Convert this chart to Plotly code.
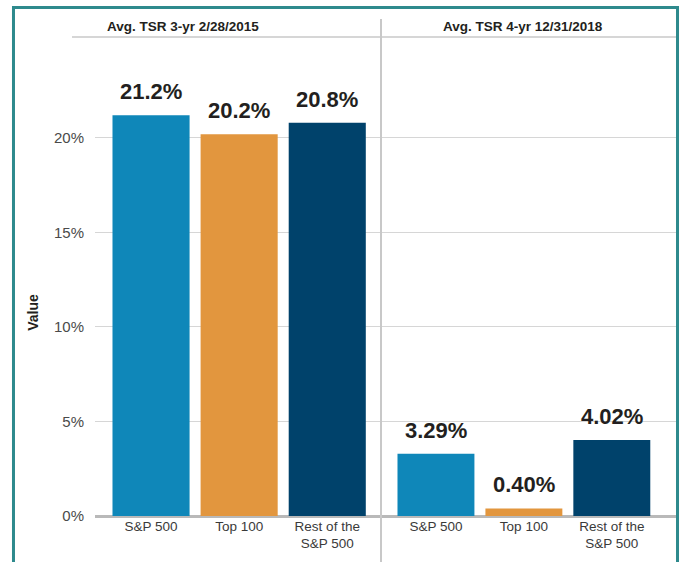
import plotly.graph_objects as go
from plotly.subplots import make_subplots

categories = ["S&P 500", "Top 100", "Rest of the<br>S&P 500"]
panel_titles = ["Avg. TSR 3-yr 2/28/2015", "Avg. TSR 4-yr 12/31/2018"]
values_2015 = [21.2, 20.2, 20.8]
values_2018 = [3.29, 0.40, 4.02]
labels_2015 = ["21.2%", "20.2%", "20.8%"]
labels_2018 = ["3.29%", "0.40%", "4.02%"]
bar_colors = ["#0f87b9", "#e2963e", "#00426b"]
y_ticks = [0, 5, 10, 15, 20]
y_tick_labels = ["0%", "5%", "10%", "15%", "20%"]

FONT = "Liberation Sans, Arial, sans-serif"
SPLIT = 286 / 581  # panel divider in paper units

fig = make_subplots(rows=1, cols=2, shared_yaxes=True, horizontal_spacing=0.0)

panels = [(values_2015, labels_2015), (values_2018, labels_2018)]
for col, (vals, labs) in enumerate(panels, start=1):
    fig.add_trace(go.Bar(
        x=categories, y=vals,
        marker=dict(color=bar_colors, line=dict(width=0)),
        width=0.875, showlegend=False, hoverinfo="x+y",
    ), row=1, col=col)
    xref = "x" if col == 1 else "x2"
    for c, v, t in zip(categories, vals, labs):
        fig.add_annotation(
            x=c, y=v, xref=xref, yref="y", text="<b>%s</b>" % t,
            showarrow=False, xanchor="center", yanchor="bottom", yshift=9,
            font=dict(family=FONT, size=22, color="#231f20"),
        )

fig.update_xaxes(domain=[0, SPLIT], range=[-0.636, 2.61], row=1, col=1)
fig.update_xaxes(domain=[SPLIT, 1], range=[-0.625, 2.73], row=1, col=2)
for col in (1, 2):
    fig.update_xaxes(
        type="category", showgrid=False, showline=False, ticks="", automargin=False,
        tickfont=dict(family=FONT, size=13.5, color="#3a3a3a"),
        row=1, col=col,
    )
    fig.update_yaxes(
        range=[0, 25.34], tickvals=y_ticks, ticktext=y_tick_labels,
        showgrid=True, gridcolor="#d6d6d6", gridwidth=1.2,
        zeroline=True, zerolinecolor="#b9b9b9", zerolinewidth=3,
        showline=False, ticks="", automargin=False,
        row=1, col=col,
    )
fig.update_yaxes(
    ticklabelstandoff=10,
    tickfont=dict(family=FONT, size=15, color="#4a4a4a"),
    row=1, col=1,
)

# y-axis title
fig.add_annotation(
    text="<b>Value</b>", xref="paper", yref="paper", x=-0.107, y=0.426,
    textangle=-90, showarrow=False, xanchor="center", yanchor="middle",
    font=dict(family=FONT, size=14, color="#231f20"),
)

# panel headers
header_x = [0.1515, 0.7367]
for hx, t in zip(header_x, panel_titles):
    fig.add_annotation(
        text="<b>%s</b>" % t, xref="paper", yref="paper",
        x=hx, y=1.022, xanchor="center", yanchor="middle",
        showarrow=False, font=dict(family=FONT, size=13.5, color="#231f20"),
    )

# header underline, divider and teal frame
fig.add_shape(type="line", xref="paper", yref="paper", x0=-0.0396, x1=1.0, y0=1.0, y1=1.0,
              line=dict(color="#c8c8c8", width=1.5))
fig.add_shape(type="line", xref="paper", yref="paper", x0=SPLIT, x1=SPLIT, y0=-0.2, y1=1.0376,
              line=dict(color="#c8c8c8", width=2))
fig.add_shape(type="path", xref="paper", yref="paper",
              path="M -0.1403 -0.2 L -0.1403 1.0616 L 1.0026 1.0616 L 1.0026 -0.2",
              line=dict(color="#2e8a8d", width=3))

fig.update_layout(
    width=683, height=562,
    margin=dict(l=95, r=7, t=37, b=46, autoexpand=False),
    paper_bgcolor="white", plot_bgcolor="white",
    font=dict(family=FONT),
)

# remove the default page margin so the figure fills the window exactly
fig.write_html(
    "out.html",
    config={"displayModeBar": False},
    post_script="document.body.style.margin='0';document.body.style.overflow='hidden';",
)
